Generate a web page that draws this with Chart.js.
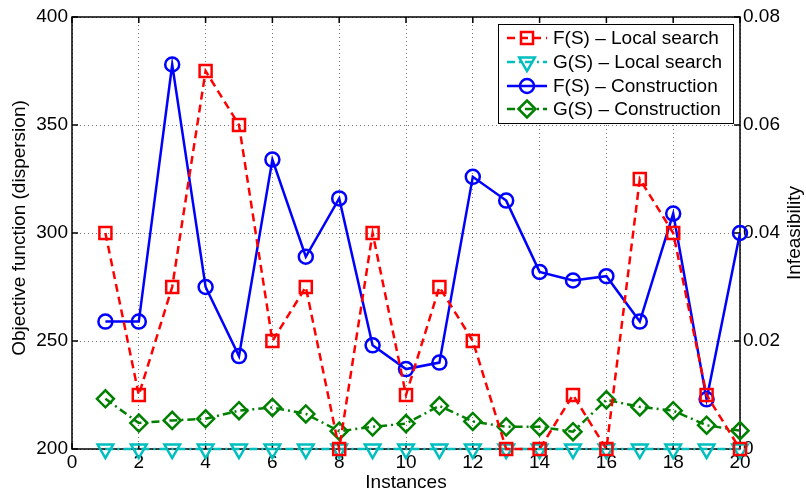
<!DOCTYPE html>
<html>
<head>
<meta charset="utf-8">
<script src="https://cdn.jsdelivr.net/npm/chart.js@4.4.0/dist/chart.umd.min.js"></script>
<style>
  body { margin: 0; background: #fff; }
  canvas { display: block; }
</style>
</head>
<body>
<canvas id="chart" width="806" height="493"></canvas>
<script>
// values
const instances = [1, 2, 3, 4, 5, 6, 7, 8, 9, 10, 11, 12, 13, 14, 15, 16, 17, 18, 19, 20];
const fsLocal = [300, 225, 275, 375, 350, 250, 275, 200, 300, 225, 275, 250, 200, 200, 225, 200, 325, 300, 225, 200];
const gsLocal = [0, 0, 0, 0, 0, 0, 0, 0, 0, 0, 0, 0, 0, 0, 0, 0, 0, 0, 0, 0];
const fsConstruction = [259, 259, 378, 275, 243, 334, 289, 316, 248, 237, 240, 326, 315, 282, 278, 280, 259, 309, 223, 300];
const gsConstruction = [0.0093, 0.0048, 0.0053, 0.0056, 0.0071, 0.0077, 0.0065, 0.0033, 0.0041, 0.0047,
  0.0080, 0.0051, 0.0041, 0.0041, 0.0032, 0.0091, 0.0078, 0.0071, 0.0044, 0.0034];
const seriesLabels = ["F(S) \u2013 Local search", "G(S) \u2013 Local search", "F(S) \u2013 Construction", "G(S) \u2013 Construction"];

const FONT = "'Liberation Sans', Arial, sans-serif";
const pts = arr => arr.map((v, i) => ({ x: instances[i], y: v }));
const dashDot = [8, 4, 2, 4];

const frame = {
  id: "frame",
  beforeDatasetsDraw(chart) {
    const { ctx, chartArea: a, scales } = chart;
    ctx.save();
    ctx.strokeStyle = "#000";
    ctx.lineWidth = 1.5;
    ctx.strokeRect(a.left, a.top, a.right - a.left, a.bottom - a.top);
    ctx.beginPath();
    scales.x.ticks.forEach(t => {
      const px = scales.x.getPixelForValue(t.value);
      ctx.moveTo(px, a.bottom); ctx.lineTo(px, a.bottom - 6);
      ctx.moveTo(px, a.top); ctx.lineTo(px, a.top + 6);
    });
    scales.y.ticks.forEach(t => {
      const py = scales.y.getPixelForValue(t.value);
      ctx.moveTo(a.left, py); ctx.lineTo(a.left + 6, py);
    });
    scales.y2.ticks.forEach(t => {
      const py = scales.y2.getPixelForValue(t.value);
      ctx.moveTo(a.right, py); ctx.lineTo(a.right - 6, py);
    });
    ctx.stroke();
    ctx.restore();
  },
  afterDraw(chart) {
    const { ctx, chartArea: a } = chart;
    ctx.save();
    ctx.fillStyle = "#000";
    ctx.font = "19px " + FONT;
    ctx.textAlign = "center";
    ctx.textBaseline = "middle";
    ctx.fillText("Instances", (a.left + a.right) / 2, 483);
    ctx.save();
    ctx.translate(20, 228);
    ctx.rotate(-Math.PI / 2);
    ctx.fillText("Objective function (dispersion)", 0, 0);
    ctx.restore();
    ctx.save();
    ctx.translate(795, 233);
    ctx.rotate(-Math.PI / 2);
    ctx.fillText("Infeasibility", 0, 0);
    ctx.restore();

    // legend box
    const bx = 498, by = 24, bw = 235, bh = 99;
    ctx.fillStyle = "#fff";
    ctx.fillRect(bx, by, bw, bh);
    ctx.strokeStyle = "#000";
    ctx.lineWidth = 1;
    ctx.strokeRect(bx + 0.5, by + 0.5, bw, bh);
    const rows = [38, 62, 86, 109];
    chart.data.datasets.forEach((ds, i) => {
      const y = rows[i];
      ctx.strokeStyle = ds.borderColor;
      ctx.lineWidth = ds.borderWidth;
      ctx.setLineDash(ds.borderDash || []);
      ctx.beginPath();
      ctx.moveTo(507, y); ctx.lineTo(547, y);
      ctx.stroke();
      ctx.setLineDash([]);
      ctx.fillStyle = "rgba(0,0,0,0)";
      Chart.helpers.drawPoint(ctx, {
        pointStyle: ds.pointStyle, rotation: ds.pointRotation || 0,
        radius: ds.pointRadius, borderWidth: ds.pointBorderWidth
      }, 527, y);
      ctx.fillStyle = "#000";
      ctx.textAlign = "left";
      ctx.fillText(ds.label, 553, y + 1);
    });
    ctx.restore();
  }
};

const ctx = document.getElementById("chart").getContext("2d");
new Chart(ctx, {
  type: "line",
  data: {
    datasets: [{
      label: seriesLabels[0],
      data: pts(fsLocal),
      yAxisID: "y",
      borderColor: "#ff0000",
      borderDash: [8, 5],
      borderWidth: 2.5,
      pointStyle: "rect",
      pointRadius: 8.5,
      pointBorderWidth: 2.5,
      pointBackgroundColor: "rgba(0,0,0,0)",
      pointBorderColor: "#ff0000"
    }, {
      label: seriesLabels[1],
      data: pts(gsLocal),
      yAxisID: "y2",
      borderColor: "#00bfbf",
      borderDash: dashDot,
      borderWidth: 2.5,
      pointStyle: "triangle",
      pointRotation: 180,
      pointRadius: 9,
      pointBorderWidth: 2.5,
      pointBackgroundColor: "rgba(0,0,0,0)",
      pointBorderColor: "#00bfbf"
    }, {
      label: seriesLabels[2],
      data: pts(fsConstruction),
      yAxisID: "y",
      borderColor: "#0000ff",
      borderWidth: 2.5,
      pointStyle: "circle",
      pointRadius: 7,
      pointBorderWidth: 2.5,
      pointBackgroundColor: "rgba(0,0,0,0)",
      pointBorderColor: "#0000ff"
    }, {
      label: seriesLabels[3],
      data: pts(gsConstruction),
      yAxisID: "y2",
      borderColor: "#008000",
      borderDash: dashDot,
      borderWidth: 2.5,
      pointStyle: "rectRot",
      pointRadius: 8.5,
      pointBorderWidth: 2.5,
      pointBackgroundColor: "rgba(0,0,0,0)",
      pointBorderColor: "#008000"
    }]
  },
  options: {
    responsive: false,
    animation: false,
    layout: { padding: { top: 17, left: 0, right: 0, bottom: 0 } },
    elements: { line: { tension: 0, fill: false } },
    datasets: { line: { clip: false } },
    plugins: { legend: { display: false }, tooltip: { enabled: false } },
    scales: {
      x: {
        type: "linear",
        min: 0, max: 20,
        afterFit: s => { s.height = 44; },
        ticks: { stepSize: 2, color: "#000", font: { size: 19, family: FONT }, padding: 2, maxRotation: 0 },
        grid: { color: "rgba(0,0,0,0.55)", drawTicks: false, lineWidth: 1 },
        border: { display: false, dash: [1, 3] }
      },
      y: {
        position: "left",
        min: 200, max: 400,
        afterFit: s => { s.width = 72; },
        ticks: { stepSize: 50, color: "#000", font: { size: 19, family: FONT }, padding: 4 },
        grid: { color: "rgba(0,0,0,0.55)", drawTicks: false, lineWidth: 1 },
        border: { display: false, dash: [1, 3] }
      },
      y2: {
        position: "right",
        min: 0, max: 0.08,
        afterFit: s => { s.width = 66; },
        ticks: {
          stepSize: 0.02, color: "#000", font: { size: 19, family: FONT }, padding: 3,
          callback: v => (v === 0 ? "0" : v.toFixed(2))
        },
        grid: { display: false, drawTicks: false },
        border: { display: false }
      }
    }
  },
  plugins: [frame]
});
</script>
</body>
</html>
